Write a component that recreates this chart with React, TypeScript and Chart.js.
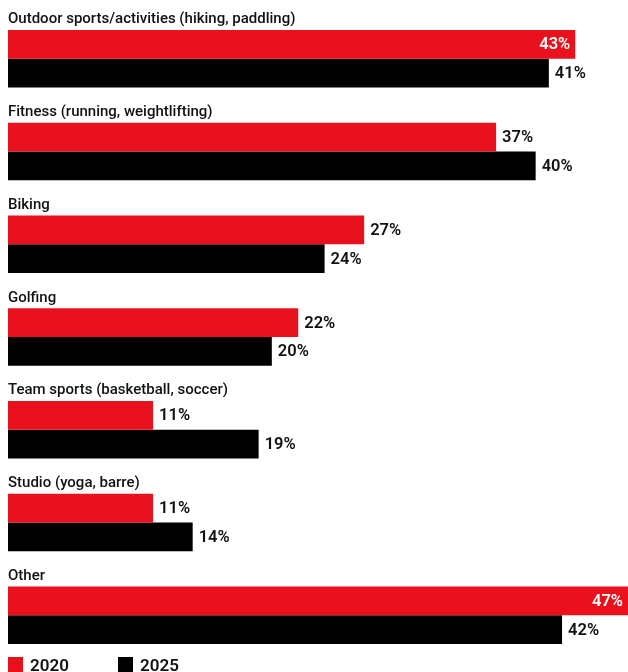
import React, { useEffect, useRef } from "react";
import { Chart, registerables } from "chart.js";

Chart.register(...registerables);

const categories = [
  "Outdoor sports/activities (hiking, paddling)",
  "Fitness (running, weightlifting)",
  "Biking",
  "Golfing",
  "Team sports (basketball, soccer)",
  "Studio (yoga, barre)",
  "Other",
];
const seriesNames = ["2020", "2025"];
const values2020 = [43, 37, 27, 22, 11, 11, 47];
const values2025 = [41, 40, 24, 20, 19, 14, 42];
const seriesColors = ["#E9111D", "#000000"];

const W = 628;
const H = 690;
const FONT = "Roboto, 'Noto Sans', sans-serif";

const labelsPlugin = {
  id: "customLabels",
  afterDatasetsDraw(chart: any) {
    const { ctx } = chart;
    ctx.save();
    // category labels above each group
    ctx.font = `500 15px ${FONT}`;
    ctx.fillStyle = "#111";
    ctx.textAlign = "left";
    ctx.textBaseline = "alphabetic";
    const meta0 = chart.getDatasetMeta(0);
    chart.data.labels.forEach((lab: string, i: number) => {
      const el = meta0.data[i];
      const top = el.y - el.height / 2;
      ctx.fillText(lab, chart.chartArea.left, top - 6.5);
    });
    // value labels
    ctx.font = `600 16.5px ${FONT}`;
    ctx.textBaseline = "middle";
    chart.data.datasets.forEach((ds: any, di: number) => {
      const meta = chart.getDatasetMeta(di);
      meta.data.forEach((el: any, i: number) => {
        const v = ds.data[i];
        const txt = v + "%";
        if (v >= 43) {
          ctx.fillStyle = "#ffffff";
          ctx.textAlign = "right";
          ctx.fillText(txt, el.x - 5, el.y + 1);
        } else {
          ctx.fillStyle = "#111";
          ctx.textAlign = "left";
          ctx.fillText(txt, el.x + 6, el.y + 1);
        }
      });
    });
    // legend
    ctx.font = `600 17px ${FONT}`;
    ctx.textAlign = "left";
    ctx.textBaseline = "alphabetic";
    const lx = [8, 118];
    chart.data.datasets.forEach((ds: any, di: number) => {
      ctx.fillStyle = ds.backgroundColor;
      ctx.fillRect(lx[di], 657, 15, 15);
      ctx.fillStyle = "#111";
      ctx.fillText(ds.label, lx[di] + 22, 671);
    });
    ctx.restore();
  },
};

export default function App() {
  const ref = useRef<HTMLCanvasElement | null>(null);
  useEffect(() => {
    if (!ref.current) return;
    const chart = new Chart(ref.current, {
      type: "bar",
      data: {
        labels: categories,
        datasets: [
          { label: seriesNames[0], data: values2020, backgroundColor: seriesColors[0] },
          { label: seriesNames[1], data: values2025, backgroundColor: seriesColors[1] },
        ],
      },
      options: {
        indexAxis: "y",
        responsive: false,
        animation: false,
        layout: { padding: { left: 8, right: 0, top: 12.3, bottom: 28.4 } },
        datasets: { bar: { categoryPercentage: 0.619, barPercentage: 1 } },
        scales: {
          x: { display: false, min: 0, max: 47 },
          y: { display: false, offset: true },
        },
        plugins: {
          legend: { display: false },
          tooltip: { enabled: false },
        },
      },
      plugins: [labelsPlugin],
    });
    return () => chart.destroy();
  }, []);
  return (
    <div style={{ position: "absolute", left: 0, top: 0, width: W, height: H, overflow: "hidden" }}>
      <canvas ref={ref} width={W} height={H} style={{ display: "block", width: W, height: H }} />
    </div>
  );
}
